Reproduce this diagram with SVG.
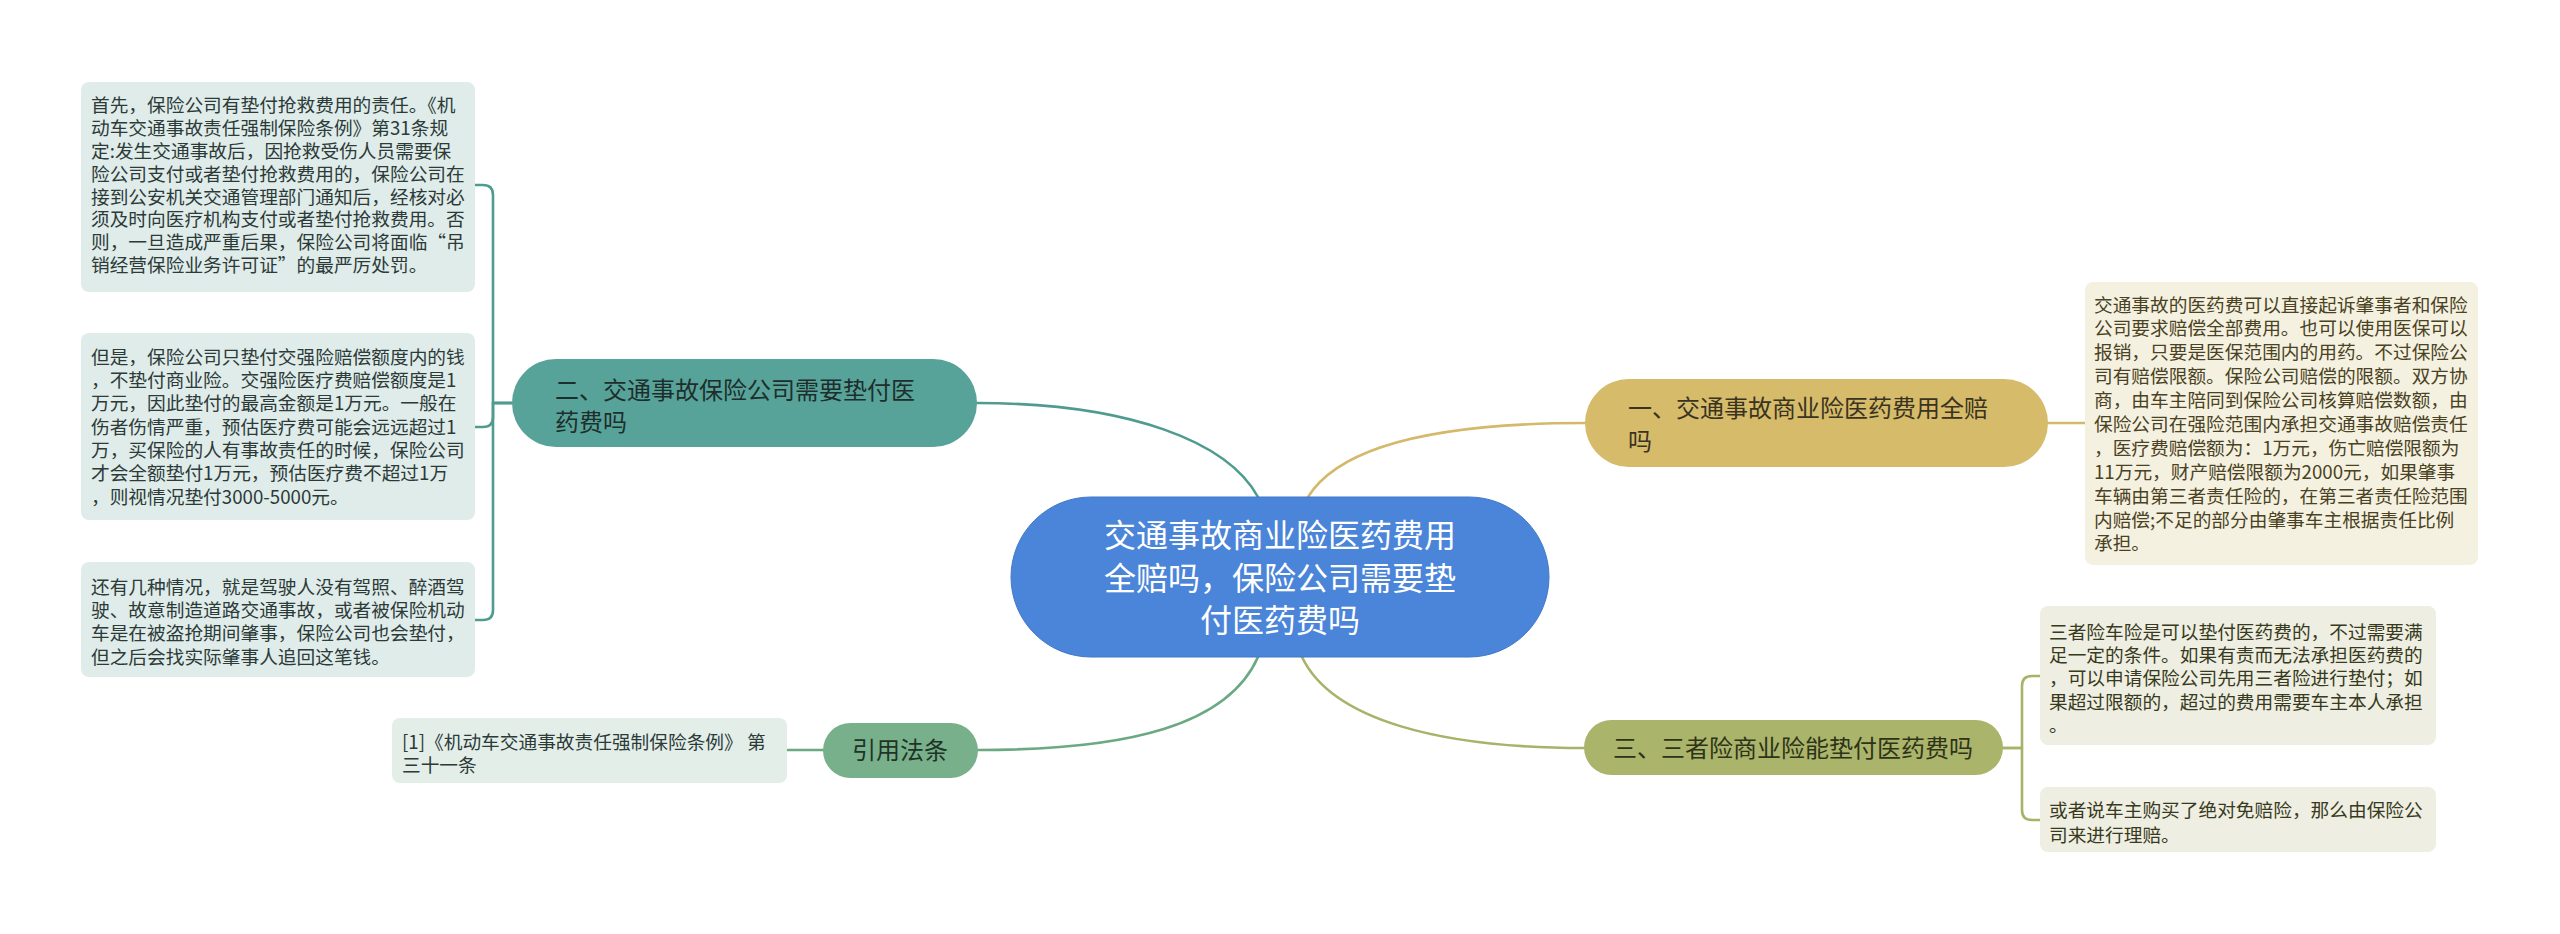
<svg xmlns="http://www.w3.org/2000/svg" width="2560" height="934" viewBox="0 0 2560 934">
<style>
text{font-family:"Noto Sans CJK SC","Noto Sans",sans-serif;}
.bt{font-size:18.7px;}
.lt{fill:#2c3a38;}
.rt{fill:#4a4222;}
.ot{fill:#373a20;}
.nt{font-size:24px;}
.c{fill:none;stroke-width:2.6;stroke-linecap:round;stroke-linejoin:round;}
</style>
<rect width="2560" height="934" fill="#ffffff"/>
<g id="connectors">
<path class="c" stroke="#4f9b90" d="M1258 497 C1228 442 1130 403 977 403"/>
<path class="c" stroke="#d4b96a" d="M1308 497 C1340 445 1440 423 1585 423"/>
<path class="c" stroke="#6ba982" d="M1258 657 C1228 725 1130 750 978 750"/>
<path class="c" stroke="#a8b268" d="M1302 657 C1332 720 1440 748 1584 748"/>
<path class="c" stroke="#4f9b90" d="M512 403 H493 V195 Q493 185 483 185 H475"/>
<path class="c" stroke="#4f9b90" d="M512 403 H493 V417 Q493 427 483 427 H475"/>
<path class="c" stroke="#4f9b90" d="M512 403 H493 V610 Q493 620 483 620 H475"/>
<path class="c" stroke="#6ba982" d="M823 750 H787"/>
<path class="c" stroke="#d4b96a" d="M2048 423 H2085"/>
<path class="c" stroke="#a8b268" d="M2003 748 H2022 V686 Q2022 676 2032 676 H2040"/>
<path class="c" stroke="#a8b268" d="M2003 748 H2022 V810 Q2022 820 2032 820 H2040"/>
</g>
<g id="root">
<rect x="1011" y="497" width="538" height="160" rx="80" fill="#4b85d9" stroke="#4178c6" stroke-width="1"/>
<text x="1280" y="547" font-size="32" fill="#ffffff" text-anchor="middle">交通事故商业险医药费用</text>
<text x="1280" y="590" font-size="32" fill="#ffffff" text-anchor="middle">全赔吗，保险公司需要垫</text>
<text x="1280" y="632" font-size="32" fill="#ffffff" text-anchor="middle">付医药费吗</text>
</g>
<g id="n2">
<rect x="512" y="359" width="465" height="88" rx="44" fill="#57a399"/>
<text class="nt" x="555" y="399" fill="#1e2e2c">二、交通事故保险公司需要垫付医</text>
<text class="nt" x="555" y="431" fill="#1e2e2c">药费吗</text>
</g>
<g id="n2b1">
<rect x="81" y="82" width="394" height="210" rx="8" fill="#dfecea"/>
<text class="bt lt" x="91" y="112">首先，保险公司有垫付抢救费用的责任。《机</text>
<text class="bt lt" x="91" y="135">动车交通事故责任强制保险条例》第31条规</text>
<text class="bt lt" x="91" y="158">定:发生交通事故后，因抢救受伤人员需要保</text>
<text class="bt lt" x="91" y="181">险公司支付或者垫付抢救费用的，保险公司在</text>
<text class="bt lt" x="91" y="204">接到公安机关交通管理部门通知后，经核对必</text>
<text class="bt lt" x="91" y="226">须及时向医疗机构支付或者垫付抢救费用。否</text>
<text class="bt lt" x="91" y="249">则，一旦造成严重后果，保险公司将面临“吊</text>
<text class="bt lt" x="91" y="272">销经营保险业务许可证”的最严厉处罚。</text>
</g>
<g id="n2b2">
<rect x="81" y="333" width="394" height="187" rx="8" fill="#dfecea"/>
<text class="bt lt" x="91" y="364">但是，保险公司只垫付交强险赔偿额度内的钱</text>
<text class="bt lt" x="91" y="387">，不垫付商业险。交强险医疗费赔偿额度是1</text>
<text class="bt lt" x="91" y="410">万元，因此垫付的最高金额是1万元。一般在</text>
<text class="bt lt" x="91" y="434">伤者伤情严重，预估医疗费可能会远远超过1</text>
<text class="bt lt" x="91" y="457">万，买保险的人有事故责任的时候，保险公司</text>
<text class="bt lt" x="91" y="480">才会全额垫付1万元，预估医疗费不超过1万</text>
<text class="bt lt" x="91" y="504">，则视情况垫付3000-5000元。</text>
</g>
<g id="n2b3">
<rect x="81" y="562" width="394" height="115" rx="8" fill="#dfecea"/>
<text class="bt lt" x="91" y="594">还有几种情况，就是驾驶人没有驾照、醉酒驾</text>
<text class="bt lt" x="91" y="617">驶、故意制造道路交通事故，或者被保险机动</text>
<text class="bt lt" x="91" y="640">车是在被盗抢期间肇事，保险公司也会垫付，</text>
<text class="bt lt" x="91" y="664">但之后会找实际肇事人追回这笔钱。</text>
</g>
<g id="n4">
<rect x="823" y="723" width="155" height="55" rx="27.5" fill="#78b08b"/>
<text class="nt" x="900" y="759" fill="#1f3326" text-anchor="middle">引用法条</text>
</g>
<g id="n4b1">
<rect x="392" y="718" width="395" height="65" rx="8" fill="#e3eee8"/>
<text class="bt lt" x="402" y="749">[1]《机动车交通事故责任强制保险条例》 第</text>
<text class="bt lt" x="402" y="772">三十一条</text>
</g>
<g id="n1">
<rect x="1585" y="379" width="463" height="88" rx="44" fill="#d5bb6a"/>
<text class="nt" x="1628" y="417" fill="#3a3320">一、交通事故商业险医药费用全赔</text>
<text class="nt" x="1628" y="450" fill="#3a3320">吗</text>
</g>
<g id="n1b1">
<rect x="2085" y="282" width="393" height="283" rx="8" fill="#f4f1e1"/>
<text class="bt rt" x="2094" y="312">交通事故的医药费可以直接起诉肇事者和保险</text>
<text class="bt rt" x="2094" y="335">公司要求赔偿全部费用。也可以使用医保可以</text>
<text class="bt rt" x="2094" y="359">报销，只要是医保范围内的用药。不过保险公</text>
<text class="bt rt" x="2094" y="383">司有赔偿限额。保险公司赔偿的限额。双方协</text>
<text class="bt rt" x="2094" y="407">商，由车主陪同到保险公司核算赔偿数额，由</text>
<text class="bt rt" x="2094" y="431">保险公司在强险范围内承担交通事故赔偿责任</text>
<text class="bt rt" x="2094" y="455">，医疗费赔偿额为：1万元，伤亡赔偿限额为</text>
<text class="bt rt" x="2094" y="479">11万元，财产赔偿限额为2000元，如果肇事</text>
<text class="bt rt" x="2094" y="503">车辆由第三者责任险的，在第三者责任险范围</text>
<text class="bt rt" x="2094" y="527">内赔偿;不足的部分由肇事车主根据责任比例</text>
<text class="bt rt" x="2094" y="550">承担。</text>
</g>
<g id="n3">
<rect x="1584" y="720" width="419" height="55" rx="27.5" fill="#aab46b"/>
<text class="nt" x="1613" y="757" fill="#2e3318">三、三者险商业险能垫付医药费吗</text>
</g>
<g id="n3b1">
<rect x="2040" y="606" width="396" height="139" rx="8" fill="#eeeee2"/>
<text class="bt ot" x="2049" y="639">三者险车险是可以垫付医药费的，不过需要满</text>
<text class="bt ot" x="2049" y="662">足一定的条件。如果有责而无法承担医药费的</text>
<text class="bt ot" x="2049" y="685">，可以申请保险公司先用三者险进行垫付；如</text>
<text class="bt ot" x="2049" y="709">果超过限额的，超过的费用需要车主本人承担</text>
<text class="bt ot" x="2049" y="732">。</text>
</g>
<g id="n3b2">
<rect x="2040" y="787" width="396" height="65" rx="8" fill="#eeeee2"/>
<text class="bt ot" x="2049" y="817">或者说车主购买了绝对免赔险，那么由保险公</text>
<text class="bt ot" x="2049" y="842">司来进行理赔。</text>
</g>
</svg>
